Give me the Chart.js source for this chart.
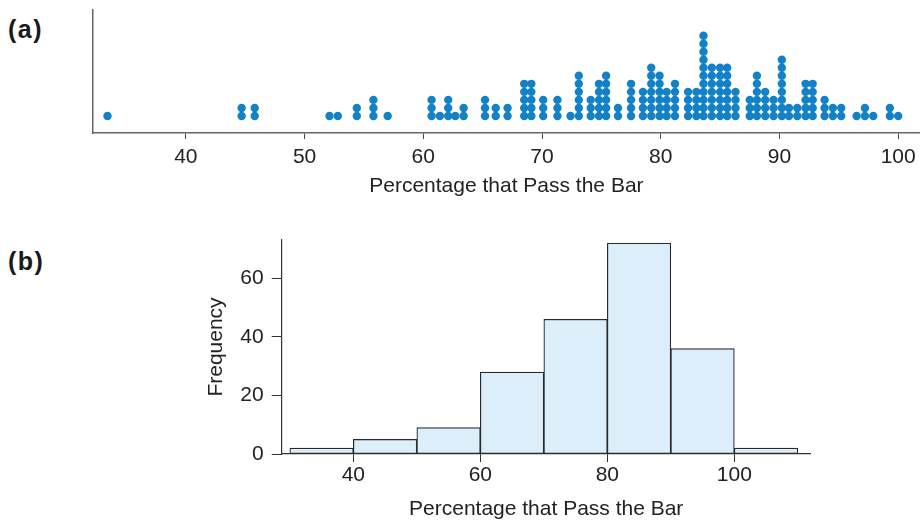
<!DOCTYPE html>
<html>
<head>
<meta charset="utf-8">
<title>Percentage that Pass the Bar</title>
<script src="https://cdn.jsdelivr.net/npm/chart.js@4.4.1/dist/chart.umd.min.js"></script>
<style>
  html, body { margin: 0; padding: 0; background: #fff; }
  body { width: 924px; height: 521px; position: relative; overflow: hidden; font-family: 'Liberation Sans', Arial, sans-serif; }
  .panel-label { position: absolute; left: 8px; font-weight: bold; font-size: 25px; letter-spacing: 1.5px; line-height: 28px; color: #1a1a1a; }
  #dot-chart { position: absolute; left: 0; top: 0; }
  #hist-chart { position: absolute; left: 0; top: 200px; }
</style>
</head>
<body>
<div class="panel-label" style="top:15px">(a)</div>
<div class="panel-label" style="top:247px">(b)</div>
<canvas id="dot-chart" width="924" height="199"></canvas>
<canvas id="hist-chart" width="924" height="322"></canvas>
<script>
// (a) dot plot: one column per value, count = dots stacked
const dotValues = [33.4, 44.7, 45.8, 52.1, 52.8, 54.4, 55.8, 57.0, 60.7, 61.4, 62.1, 62.7, 63.4,
  65.2, 66.1, 67.1, 68.5, 69.1, 70.1, 71.3, 72.4, 73.1, 74.1, 74.8, 75.4, 76.4, 77.5, 78.5,
  79.2, 79.9, 80.5, 81.2, 82.3, 83.0, 83.6, 84.3, 85.0, 85.6, 86.3, 87.5, 88.1, 88.8, 89.5,
  90.2, 90.8, 91.5, 92.2, 92.8, 93.8, 94.5, 95.2, 96.5, 97.2, 97.9, 99.3, 100.0];
const dotCounts = [1, 2, 2, 1, 1, 2, 3, 1, 3, 1, 3, 1, 2,
  3, 2, 2, 5, 5, 3, 3, 1, 6, 3, 5, 6, 2, 5, 4,
  7, 6, 4, 5, 4, 4, 11, 7, 7, 7, 4, 3, 6, 4, 3,
  8, 2, 2, 5, 5, 3, 2, 2, 1, 2, 1, 2, 1];
const dotTicks = [40, 50, 60, 70, 80, 90, 100];

// (b) histogram
const binStarts = [30, 40, 50, 60, 70, 80, 90, 100];
const binWidth = 10;
const binFreq = [2, 5, 9, 28, 46, 72, 36, 2];
const histXTicks = [40, 60, 80, 100];
const histYTicks = [0, 20, 40, 60];

const xTitle = 'Percentage that Pass the Bar';
const yTitle = 'Frequency';

const fontFamily = "'Liberation Sans', Arial, sans-serif";
Chart.defaults.font.family = fontFamily;
Chart.defaults.color = '#222';

function fixedTicks(list) {
  return function(scale) {
    scale.ticks = list.map(function(v) { return { value: v }; });
  };
}

// stack the dots
const dotPoints = [];
dotValues.forEach(function(v, i) {
  for (let k = 1; k <= dotCounts[i]; k++) {
    dotPoints.push({ x: v, y: k });
  }
});

new Chart(document.getElementById('dot-chart'), {
  type: 'scatter',
  data: {
    datasets: [{
      data: dotPoints,
      backgroundColor: '#1381c8',
      borderColor: '#1381c8',
      borderWidth: 0,
      pointRadius: 4.2,
      pointHoverRadius: 4.2
    }]
  },
  options: {
    responsive: false,
    animation: false,
    layout: { padding: { left: 0, right: 3, top: 10, bottom: 0 } },
    plugins: { legend: { display: false }, tooltip: { enabled: false } },
    scales: {
      x: {
        type: 'linear',
        min: 32.18,
        max: 101.82,
        afterBuildTicks: fixedTicks(dotTicks),
        afterFit: function(scale) { scale.height = 66; },
        grid: { drawOnChartArea: false, tickLength: 6, color: '#444' },
        border: { color: '#666', width: 1.5 },
        ticks: { font: { size: 21 }, color: '#222', padding: 6, maxRotation: 0, autoSkip: false },
        title: { display: true, text: xTitle, font: { size: 21 }, color: '#222', padding: 0 }
      },
      y: {
        min: -1.125,
        max: 14.2,
        afterFit: function(scale) { scale.width = 93; },
        ticks: { display: false },
        grid: { display: false },
        border: { color: '#666', width: 1.5 }
      }
    }
  }
});

new Chart(document.getElementById('hist-chart'), {
  type: 'bar',
  data: {
    datasets: [{
      data: binStarts.map(function(b, i) { return { x: b + binWidth / 2, y: binFreq[i] }; }),
      backgroundColor: '#dceef9',
      borderColor: '#2a2a2a',
      borderWidth: 1.2,
      borderSkipped: false,
      barPercentage: 1,
      categoryPercentage: 1
    }]
  },
  options: {
    responsive: false,
    animation: false,
    layout: { padding: { left: 203.5, right: 113.3, top: 40, bottom: 0 } },
    plugins: { legend: { display: false }, tooltip: { enabled: false } },
    scales: {
      x: {
        type: 'linear',
        min: 28.72,
        max: 112.03,
        offset: false,
        afterBuildTicks: fixedTicks(histXTicks),
        afterFit: function(scale) { scale.height = 68; },
        grid: { offset: false, drawOnChartArea: false, tickLength: 8, color: '#333' },
        border: { color: '#333', width: 1.2 },
        ticks: { font: { size: 21 }, color: '#222', padding: 1, maxRotation: 0, autoSkip: false },
        title: { display: true, text: xTitle, font: { size: 21 }, color: '#222', padding: 0 }
      },
      y: {
        min: 0,
        max: 73.1,
        afterBuildTicks: fixedTicks(histYTicks),
        afterFit: function(scale) { scale.width = 78.2; },
        grid: { drawOnChartArea: false, tickLength: 10, color: '#333' },
        border: { color: '#333', width: 1.2 },
        ticks: { font: { size: 21 }, color: '#222', padding: 8 },
        title: { display: true, text: yTitle, font: { size: 21 }, color: '#222', padding: 0 }
      }
    }
  }
});
</script>
</body>
</html>
